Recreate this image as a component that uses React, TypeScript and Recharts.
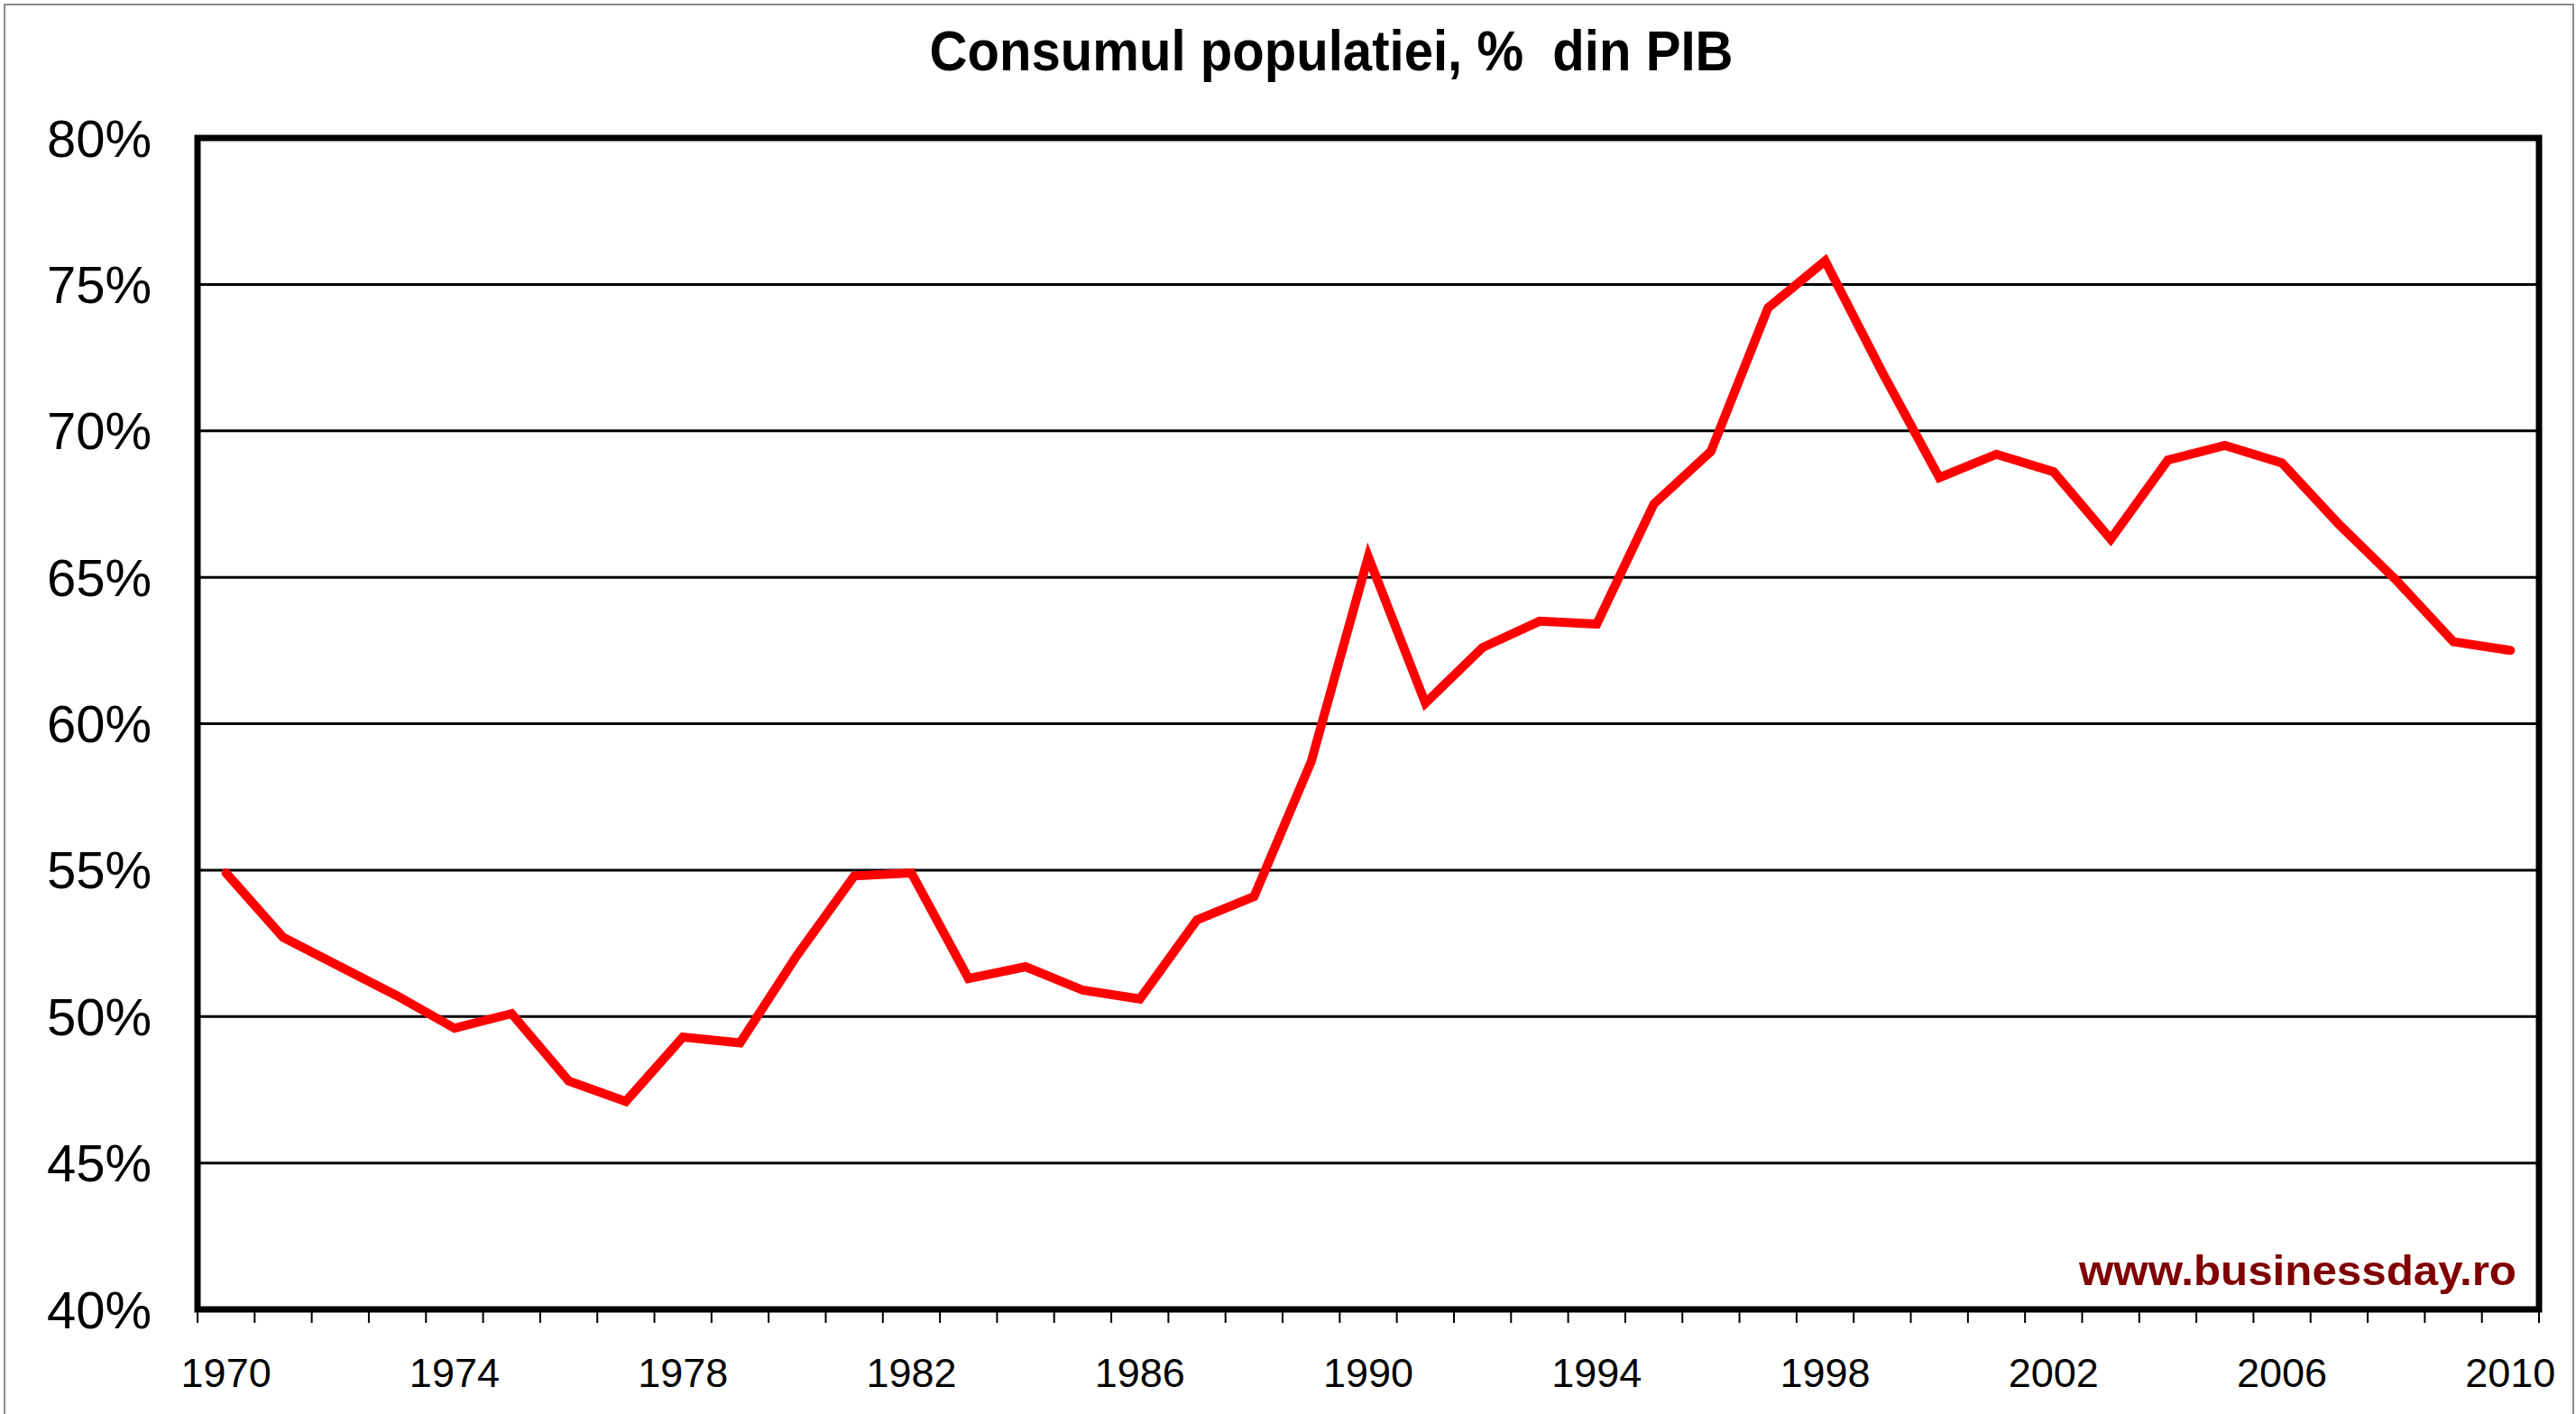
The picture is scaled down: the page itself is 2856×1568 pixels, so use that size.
import React from 'react'
import { LineChart, Line, XAxis, YAxis, CartesianGrid, ReferenceArea } from 'recharts'

// consumul populatiei, % din PIB
const YEARS = [
  1970, 1971, 1972, 1973, 1974, 1975, 1976, 1977, 1978, 1979,
  1980, 1981, 1982, 1983, 1984, 1985, 1986, 1987, 1988, 1989,
  1990, 1991, 1992, 1993, 1994, 1995, 1996, 1997, 1998, 1999,
  2000, 2001, 2002, 2003, 2004, 2005, 2006, 2007, 2008, 2009, 2010,
]
const CONSUMPTION = [
  54.9, 52.7, 51.7, 50.7, 49.6, 50.1, 47.8, 47.1, 49.3, 49.1,
  52.1, 54.8, 54.9, 51.3, 51.7, 50.9, 50.6, 53.3, 54.1, 58.7,
  65.7, 60.7, 62.6, 63.5, 63.4, 67.5, 69.3, 74.2, 75.8, 72.0,
  68.4, 69.2, 68.6, 66.3, 69.0, 69.5, 68.9, 66.8, 64.9, 62.8, 62.5,
]
const YEAR_LABELS = [1970, 1974, 1978, 1982, 1986, 1990, 1994, 1998, 2002, 2006, 2010]
const PCT_TICKS = [40, 45, 50, 55, 60, 65, 70, 75, 80]

const TITLE = 'Consumul populatiei, %  din PIB'
const SOURCE = 'www.businessday.ro'

const FONT = '"Liberation Sans", Arial, sans-serif'
const W = 2856
const H = 1568

// tick marks sit on the category edges, like Excel
const YEAR_EDGES = [...YEARS.map((y) => y - 0.5), YEARS[YEARS.length - 1] + 0.5]
const X_DOMAIN: [number, number] = [YEAR_EDGES[0], YEAR_EDGES[YEAR_EDGES.length - 1]]

const data = YEARS.map((year, i) => ({ year, value: CONSUMPTION[i] }))

// tick line only, no label (tick={false} would drop the tick lines too)
const NoLabel = () => null

export default function App() {
  return (
    <div
      style={{
        position: 'absolute', left: 0, top: 0, width: W, height: H,
        background: '#fff', overflow: 'hidden', fontFamily: FONT,
      }}
    >
      <div
        style={{
          position: 'absolute', left: 4, top: 4, width: W - 10, height: H,
          border: '2px solid #8c8c8c', borderBottom: 'none',
        }}
      />
      <LineChart
        width={W}
        height={H}
        data={data}
        margin={{ top: 153, right: 41, left: 0, bottom: 0 }}
        style={{ position: 'absolute', left: 0, top: 0 }}
      >
        <CartesianGrid
          vertical={false}
          stroke="#000"
          strokeWidth={3}
          xAxisId="yr"
        />
        <XAxis
          xAxisId="yr"
          dataKey="year"
          type="number"
          domain={X_DOMAIN}
          allowDataOverflow
          ticks={YEAR_LABELS}
          interval={0}
          tickLine={false}
          axisLine={false}
          tickSize={0}
          tickMargin={53}
          height={115}
          tick={{ fontSize: 45, fill: '#000', fontFamily: FONT }}
        />
        <XAxis
          xAxisId="edges"
          dataKey="year"
          type="number"
          domain={X_DOMAIN}
          allowDataOverflow
          ticks={YEAR_EDGES}
          interval={0}
          tick={NoLabel}
          tickSize={15}
          tickLine={{ stroke: '#000', strokeWidth: 2 }}
          axisLine={false}
          height={1}
        />
        <YAxis
          type="number"
          domain={[40, 80]}
          ticks={PCT_TICKS}
          interval={0}
          width={219}
          tickFormatter={(v: number) => `${v}%`}
          tickLine={false}
          axisLine={false}
          tickSize={0}
          tickMargin={51}
          tick={{ fontSize: 58, fill: '#000', fontFamily: FONT }}
        />
        <ReferenceArea
          xAxisId="yr"
          x1={X_DOMAIN[0]}
          x2={X_DOMAIN[1]}
          y1={40}
          y2={80}
          fill="none"
          fillOpacity={0}
          stroke="#000"
          strokeWidth={7}
          ifOverflow="visible"
        />
        <Line
          xAxisId="yr"
          type="linear"
          dataKey="value"
          stroke="#ff0000"
          strokeWidth={10}
          strokeLinecap="round"
          dot={false}
          activeDot={false}
          isAnimationActive={false}
        />
      </LineChart>
      <svg
        width={W}
        height={H}
        style={{ position: 'absolute', left: 0, top: 0, pointerEvents: 'none' }}
      >
        <text
          x={1476}
          y={78}
          textAnchor="middle"
          fontFamily={FONT}
          fontWeight="bold"
          fontSize={63}
          textLength={891}
          lengthAdjust="spacingAndGlyphs"
          style={{ whiteSpace: 'pre' }}
        >
          {TITLE}
        </text>
        <text
          x={2305}
          y={1425}
          fontFamily={FONT}
          fontWeight="bold"
          fontSize={47}
          fill="#800000"
          textLength={485}
          lengthAdjust="spacingAndGlyphs"
        >
          {SOURCE}
        </text>
      </svg>
    </div>
  )
}
